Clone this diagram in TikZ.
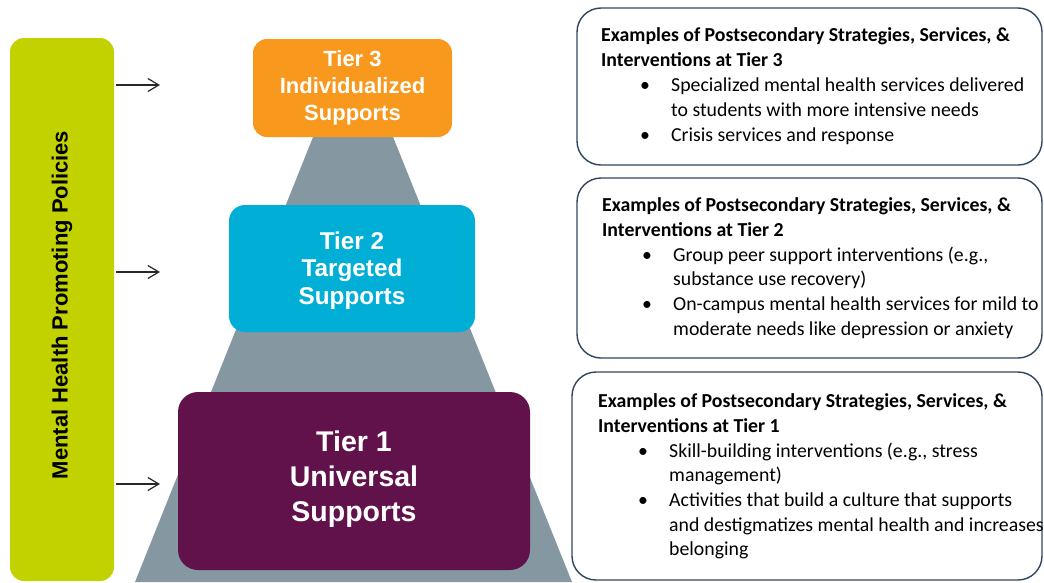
\documentclass[tikz,border=0pt]{standalone}
\usepackage{fontspec}
\setmainfont{Carlito}
\newfontfamily\tierfont{Liberation Sans}
\usetikzlibrary{arrows.meta}
\definecolor{policygreen}{RGB}{193,210,0}
\definecolor{tierorange}{RGB}{248,152,29}
\definecolor{tierblue}{RGB}{0,174,214}
\definecolor{tierpurple}{RGB}{98,18,75}
\definecolor{pyrgray}{RGB}{133,151,160}
\definecolor{boxedge}{RGB}{48,70,95}
\definecolor{arrowgray}{RGB}{40,40,40}
\tikzset{
  tierbox/.style={rectangle, rounded corners=14pt, inner sep=0pt},
  tiertext/.style={text=white, align=center, inner sep=0pt},
  infobox/.style={rectangle, draw=boxedge, line width=1.4pt, fill=white, rounded corners=24pt, inner sep=0pt},
  infoline/.style={anchor=base west, inner sep=0pt, font=\fontsize{19.8}{24}\selectfont},
  infohead/.style={infoline, font=\fontsize{19.8}{24}\selectfont\bfseries},
  policyarrow/.style={draw=arrowgray, line width=1.2pt, -{Straight Barb[length=11pt,width=13pt,line width=1.2pt]}, shorten <=2pt},
}
\newcommand{\bl}[1]{\makebox[31pt][l]{\textbullet}#1}
\begin{document}
\begin{tikzpicture}[x=1pt,y=-1pt]
\useasboundingbox (0,0) rectangle (1044,582);

% pyramid behind the tier boxes
\fill[pyrgray] (327.8,100) -- (378.2,100) -- (572,582) -- (135,582) -- cycle;

% policy bar
\node[rectangle, fill=policygreen, rounded corners=14pt, minimum width=104pt, minimum height=543pt, inner sep=0pt] (policy) at (62,309.5) {};
\node[rotate=90, inner sep=0pt, font=\tierfont\bfseries\fontsize{22}{26}\selectfont] (policytext) at (62,305) {Mental Health Promoting Policies};

% tier boxes
\node[tierbox, fill=tierorange, minimum width=199pt, minimum height=98pt] (t3) at (352.5,88) {};
\node[tierbox, fill=tierblue, minimum width=246pt, minimum height=127pt, rounded corners=16pt] (t2) at (352,268.5) {};
\node[tierbox, fill=tierpurple, minimum width=352pt, minimum height=178pt, rounded corners=20pt] (t1) at (354,481) {};

\node[tiertext, font=\tierfont\bfseries\fontsize{22}{27}\selectfont] (t3text) at (352.5,88) {Tier 3\\Individualized\\Supports};
\node[tiertext, font=\tierfont\bfseries\fontsize{24.3}{27.5}\selectfont] (t2text) at (352,270.5) {Tier 2\\Targeted\\Supports};
\node[tiertext, font=\tierfont\bfseries\fontsize{28.5}{35}\selectfont] (t1text) at (354,479) {Tier 1\\Universal\\Supports};

% arrows from the policy bar
\coordinate (a3) at (160,85);
\coordinate (a2) at (160,272);
\coordinate (a1) at (160,484);
\draw[policyarrow] (policy.east |- a3) -- (a3);
\draw[policyarrow] (policy.east |- a2) -- (a2);
\draw[policyarrow] (policy.east |- a1) -- (a1);

% example boxes
\node[infobox, minimum width=465pt, minimum height=157pt] (ex3) at (809.5,86.5) {};
\node[infobox, minimum width=465pt, minimum height=180pt] (ex2) at (809.5,268) {};
\node[infobox, minimum width=470pt, minimum height=208pt] (ex1) at (807,476) {};

% tier 3 examples
\node[infohead] (e3h1) at (601,41) {Examples of Postsecondary Strategies, Services, \&};
\node[infohead] (e3h2) at (601,66) {Interventions at Tier 3};
\node[infoline] (e3a) at (640,91) {\bl{Specialized mental health services delivered}};
\node[infoline] (e3b) at (671,116) {to students with more intensive needs};
\node[infoline] (e3c) at (640,141) {\bl{Crisis services and response}};

% tier 2 examples
\node[infohead] (e2h1) at (602,211) {Examples of Postsecondary Strategies, Services, \&};
\node[infohead] (e2h2) at (602,236) {Interventions at Tier 2};
\node[infoline] (e2a) at (642,261) {\bl{Group peer support interventions (e.g.,}};
\node[infoline] (e2b) at (673,285) {substance use recovery)};
\node[infoline] (e2c) at (642,310) {\bl{On-campus mental health services for mild to}};
\node[infoline] (e2d) at (673,335) {moderate needs like depression or anxiety};

% tier 1 examples
\node[infohead] (e1h1) at (598,407) {Examples of Postsecondary Strategies, Services, \&};
\node[infohead] (e1h2) at (598,432) {Interventions at Tier 1};
\node[infoline] (e1a) at (638,457) {\bl{Skill-building interventions (e.g., stress}};
\node[infoline] (e1b) at (669,481) {management)};
\node[infoline] (e1c) at (638,506) {\bl{Activities that build a culture that supports}};
\node[infoline] (e1d) at (669,531) {and destigmatizes mental health and increases};
\node[infoline] (e1e) at (669,555) {belonging};
\end{tikzpicture}
\end{document}
